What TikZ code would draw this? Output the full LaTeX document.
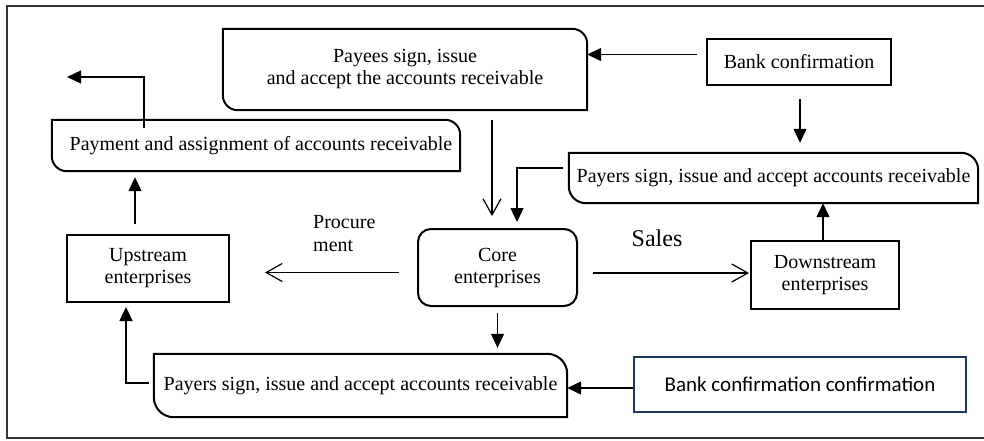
\documentclass[tikz,border=0pt]{standalone}
\usepackage{fontspec}
\setmainfont{Liberation Serif}
\newfontfamily\calibrifont{Carlito}
\usetikzlibrary{arrows.meta,calc}

% outline of a box whose top-right and bottom-left corners are rounded
\newcommand\softbox[2]{%
  \draw[boxline] (#1.north west)
    -- ([xshift=-#2]#1.north east) arc[start angle=90,end angle=0,radius=#2]
    -- (#1.south east)
    -- ([xshift=#2]#1.south west) arc[start angle=270,end angle=180,radius=#2]
    -- cycle;}

\begin{document}
\begin{tikzpicture}[x=1pt,y=1pt,
  every node/.style={font=\fontsize{20}{22}\selectfont},
  holder/.style={rectangle,draw=none,inner sep=0pt,align=center},
  boxline/.style={draw=black,line width=2pt},
  squarebox/.style={holder,draw=black,line width=2pt},
  corebox/.style={holder,draw=black,line width=2pt,rounded corners=13pt},
  bluebox/.style={holder,draw={rgb,255:red,32;green,56;blue,100},line width=1.6pt,
    font=\calibrifont\fontsize{21}{24}\selectfont},
  fillarrow/.style={line width=1.3pt,-{Triangle[length=14pt,width=13pt]}},
  openarrow/.style={line width=1.3pt,-{Straight Barb[length=16pt,width=18pt,line width=1.2pt]}},
  flabel/.style={inner sep=0pt,align=left,anchor=west}]

\useasboundingbox (0,0) rectangle (984,-440);
% outer frame (its right side lies past the page edge)
\draw[line width=2pt,draw=black!80] (1000,-6) -- (7,-6) -- (7,-438) -- (1000,-438);

% boxes
\node[holder,minimum width=364pt,minimum height=81pt] (payees) at (405,-69.5)
  {Payees sign, issue\\and accept the accounts receivable};
\node[squarebox,minimum width=184pt,minimum height=46pt] (banktop) at (799,-62)
  {Bank confirmation};
\node[holder,minimum width=409pt,minimum height=50pt] (payerstop) at (773.5,-178)
  {\raisebox{-3pt}{Payers sign, issue and accept accounts receivable}};
\node[holder,minimum width=408pt,minimum height=51pt] (payment) at (256,-145.5)
  {\hspace*{10pt}Payment and assignment of accounts receivable};
\node[corebox,minimum width=159pt,minimum height=77pt] (core) at (497.5,-267.5)
  {Core\\enterprises};
\node[squarebox,minimum width=162pt,minimum height=67pt] (upstream) at (148,-268.5)
  {Upstream\\enterprises};
\node[squarebox,minimum width=148pt,minimum height=68pt] (downstream) at (825,-275)
  {Downstream\\enterprises};
\node[holder,minimum width=413pt,minimum height=63pt] (payersbot) at (360.5,-385.5)
  {\raisebox{-3pt}{Payers sign, issue and accept accounts receivable}};
\node[bluebox,minimum width=332pt,minimum height=55pt] (bankbot) at (800,-384.5)
  {Bank confirmation confirmation};

\softbox{payees}{15pt}
\softbox{payerstop}{17pt}
\softbox{payment}{15pt}
\softbox{payersbot}{20pt}

% labels on the trade flows
\node[flabel,font=\fontsize{20}{23}\selectfont] (proc) at (313,-234) {Procure\\ment};
\node[inner sep=0pt,font=\fontsize{24}{26}\selectfont] (sales) at (657,-238) {Sales};

% free end of the outgoing payment flow
\coordinate (outflow) at (67,-77);

% connectors
\draw[fillarrow,shorten <=9pt] ([yshift=7.5pt]banktop.west) -- ([yshift=7.5pt]banktop.west -| payees.east);
\draw[fillarrow,shorten <=13pt,shorten >=10pt] ([xshift=1pt]banktop.south) -- ([xshift=1pt]banktop.south |- payerstop.north);
\draw[fillarrow] ([shift={(-6pt,10pt)}]payerstop.west) -| ([shift={(19.5pt,6pt)}]core.north);
\draw[openarrow,shorten <=10pt,shorten >=12pt] ([xshift=-5.5pt]core.north |- payees.south) -- ([xshift=-5.5pt]core.north);
\draw[fillarrow,shorten <=6pt,shorten >=6pt] (core.south) -- (core.south |- payersbot.north);
\draw[fillarrow] ([yshift=-3.5pt]bankbot.west) -- ([yshift=-3.5pt]bankbot.west -| payersbot.east);
\draw[fillarrow] ([shift={(-5pt,2.5pt)}]payersbot.west) -| ([shift={(-22pt,-4pt)}]upstream.south);
\draw[openarrow,shorten <=18pt,shorten >=35pt] ([yshift=-5pt]core.west) -- ([yshift=-5pt]core.west -| upstream.east);
\draw[openarrow,shorten <=15pt,shorten >=1pt] ([yshift=-5.5pt]core.east) -- ([yshift=-5.5pt]core.east -| downstream.west);
\draw[fillarrow] ([xshift=-2pt]downstream.north) -- ([xshift=-2pt]downstream.north |- payerstop.south);
\draw[fillarrow,shorten <=10pt,shorten >=6pt] ([xshift=-13pt]upstream.north) -- ([xshift=-13pt]upstream.north |- payment.south);
\draw[fillarrow] ([shift={(-112pt,-8pt)}]payment.north) |- (outflow);

\end{tikzpicture}
\end{document}
